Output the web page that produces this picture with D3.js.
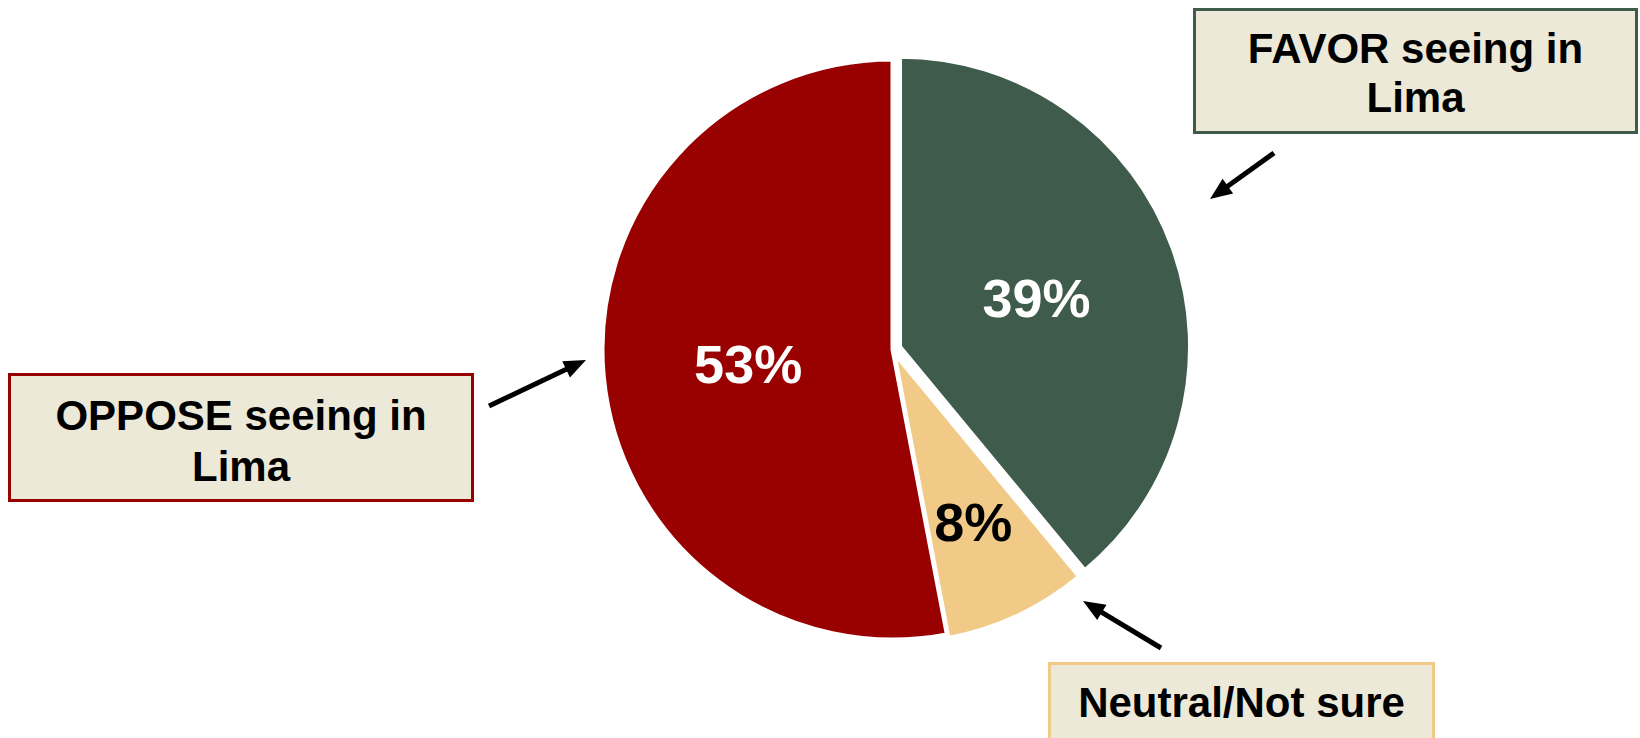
<!DOCTYPE html>
<html>
<head>
<meta charset="utf-8">
<script src="https://cdn.jsdelivr.net/npm/d3@7"></script>
<style>
body { margin: 0; background: #fff; }
svg { display: block; font-family: "Liberation Sans", Arial, sans-serif; font-weight: bold; }
</style>
</head>
<body>
<script>
// data
const categories = ["FAVOR", "Neutral", "OPPOSE"];
const values = [39, 8, 53];
const valueLabels = ["39%", "8%", "53%"];
const calloutLines = [["FAVOR seeing in", "Lima"], ["Neutral/Not sure"], ["OPPOSE seeing in", "Lima"]];

const W = 1640, H = 738;
const cx = 892.5, cy = 349.5, R = 290;
const fills = ["#3e5b4c", "#f2ca88", "#990000"];
const explode = [8, 4, 0];
const labelPos = [0.5, 0.64, 0.5];
const labelColor = ["#fff", "#000", "#fff"];

const svg = d3.select("body").append("svg").attr("width", W).attr("height", H);

// pie
const pie = d3.pie().sort(null).value(d => d);
const arc = d3.arc().innerRadius(0).outerRadius(R);
const arcs = pie(values);

const g = svg.append("g").attr("transform", `translate(${cx},${cy})`);
const slices = g.selectAll("g.slice").data(arcs).enter().append("g")
  .attr("class", "slice")
  .attr("transform", (d, i) => {
    const a = (d.startAngle + d.endAngle) / 2;
    return `translate(${Math.sin(a) * explode[i]},${-Math.cos(a) * explode[i]})`;
  });

slices.append("path")
  .attr("d", arc)
  .attr("fill", (d, i) => fills[i])
  .attr("stroke", "#fff")
  .attr("stroke-width", 4);

slices.append("text")
  .attr("transform", (d, i) => {
    const la = d3.arc().innerRadius(0).outerRadius(2 * R * labelPos[i]);
    return `translate(${la.centroid(d)})`;
  })
  .attr("text-anchor", "middle")
  .attr("dy", "0.36em")
  .attr("font-size", 54)
  .attr("fill", (d, i) => labelColor[i])
  .text((d, i) => valueLabels[i]);

// callout boxes
const boxes = [
  { x: 1193, y: 8, w: 445, h: 126, base: [63, 112] },
  { x: 1048, y: 662, w: 387, h: 90, base: [717] },
  { x: 8, y: 373, w: 466, h: 129, base: [430, 481] }
];

boxes.forEach((b, i) => {
  svg.append("rect")
    .attr("x", b.x + 1.5).attr("y", b.y + 1.5)
    .attr("width", b.w - 3).attr("height", b.h - 3)
    .attr("fill", "#ede9d8")
    .attr("stroke", fills[i])
    .attr("stroke-width", 3);
  calloutLines[i].forEach((t, j) => {
    svg.append("text")
      .attr("x", b.x + b.w / 2)
      .attr("y", b.base[j])
      .attr("text-anchor", "middle")
      .attr("font-size", 42)
      .attr("fill", "#000")
      .text(t);
  });
});

// arrows: tail -> tip
const arrows = [
  [1274, 153, 1210, 199],
  [1161, 648, 1083, 601],
  [489, 406, 586, 360]
];

arrows.forEach(([x1, y1, x2, y2]) => {
  const dx = x2 - x1, dy = y2 - y1;
  const len = Math.hypot(dx, dy);
  const ux = dx / len, uy = dy / len;
  const headL = 22, headW = 9;
  const bx = x2 - ux * headL, by = y2 - uy * headL;
  svg.append("line")
    .attr("x1", x1).attr("y1", y1)
    .attr("x2", bx + ux * 2).attr("y2", by + uy * 2)
    .attr("stroke", "#000")
    .attr("stroke-width", 5);
  svg.append("path")
    .attr("d", `M${x2},${y2}L${bx - uy * headW},${by + ux * headW}L${bx + uy * headW},${by - ux * headW}Z`)
    .attr("fill", "#000");
});
</script>
</body>
</html>
